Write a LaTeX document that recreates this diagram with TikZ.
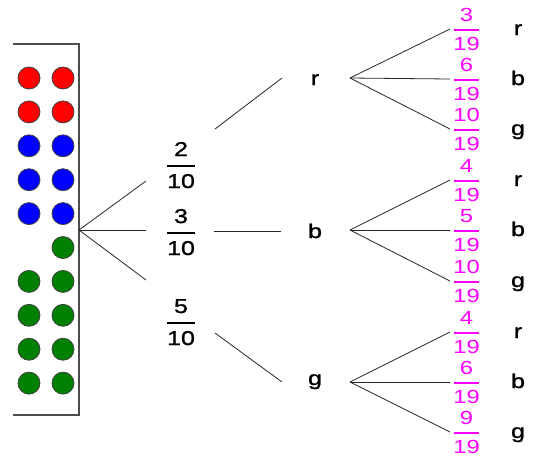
\documentclass[tikz,border=0pt]{standalone}
\usepackage{fontspec}
\setmainfont{Liberation Sans}[FakeStretch=1.25]
\newfontfamily\heavyfont{Liberation Sans}[FakeStretch=1.25, FakeBold=1.2]
\usetikzlibrary{positioning}
\definecolor{ballred}{RGB}{255,0,0}
\definecolor{ballblue}{RGB}{0,0,255}
\definecolor{ballgreen}{RGB}{0,128,0}
\definecolor{probpink}{RGB}{255,0,255}

\begin{document}
\begin{tikzpicture}[x=1pt, y=-1pt,
ball/.style={draw=black!75, line width=0.8pt, fill=#1},
jar/.style={draw=black!70, line width=1.5pt},
branch/.style={draw=black!85, line width=0.8pt},
word/.style={anchor=base, inner sep=0pt, font=\heavyfont\fontsize{20}{22}\selectfont},
prob/.style={anchor=base, inner sep=0pt, text=probpink, font=\fontsize{19}{20}\selectfont},
fracbar/.style={line width=1.1pt, draw=#1}
]
\useasboundingbox (0,0) rectangle (534,459);

% Jar
\draw[jar] (13,44) -- (79,44) -- (79,415) -- (13,415);
\foreach \row/\col in {1/ballred, 2/ballred, 3/ballblue, 4/ballblue, 5/ballblue,
  7/ballgreen, 8/ballgreen, 9/ballgreen, 10/ballgreen}
  \foreach \x in {29,63}
    \filldraw[ball=\col] (\x,{78+33.9*(\row-1)}) circle (11);
\filldraw[ball=ballgreen] (63,{78+33.9*5}) circle (11);

% First draw
\coordinate (root) at (79,230);
\foreach \name/\n/\y in {two/2/166, three/3/233, five/5/323} {
  \node[word] (\name-num) at (181,\y-10) {\n};
  \node[word] (\name-den) at (181,\y+22) {10};
  \draw[fracbar=black] (167,\y) -- (195,\y);
}
\coordinate (root-r) at (146,181);
\coordinate (root-b) at (146,230);
\coordinate (root-g) at (146,280);
\draw[branch] (root) -- (root-r);
\draw[branch] (root) -- (root-b);
\draw[branch] (root) -- (root-g);

% Colours of first ball
\node[word] (r) at (315,85) {r};
\node[word] (b) at (315,238) {b};
\node[word] (g) at (315,385) {g};
\coordinate (two-out) at (215,129);
\coordinate (three-out) at (214,231);
\coordinate (five-out) at (215,333);
\coordinate (r-in) at (282,78);
\coordinate (b-in) at (281,231);
\coordinate (g-in) at (282,382);
\draw[branch] (two-out) -- (r-in);
\draw[branch] (three-out) -- (b-in);
\draw[branch] (five-out) -- (g-in);

% Second draw
\coordinate (r-fork) at (350,78);
\coordinate (b-fork) at (350,230);
\coordinate (g-fork) at (350,382);
\foreach \parent/\pick/\n/\bary in {r/r/3/30, r/b/6/80, r/g/10/130,
  b/r/4/181, b/b/5/231, b/g/10/282, g/r/4/333, g/b/6/383, g/g/9/433} {
  \coordinate (\parent\pick-tip) at (450,\bary-1);
  \draw[branch] (\parent-fork) -- (\parent\pick-tip);
  \draw[fracbar=probpink] (454,\bary) -- (479,\bary);
  \node[prob] (\parent\pick-num) at (466.5,\bary-9) {\n};
  \node[prob] (\parent\pick-den) at (466.5,\bary+20) {19};
  \node[word] (\parent\pick) at (518,\bary+5) {\pick};
}

\end{tikzpicture}
\end{document}
